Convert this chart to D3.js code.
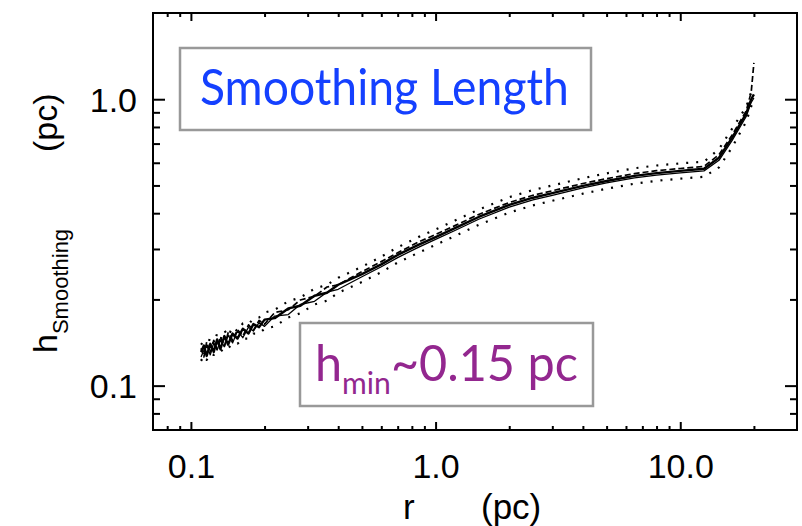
<!DOCTYPE html>
<html>
<head>
<meta charset="utf-8">
<script src="https://cdn.jsdelivr.net/npm/d3@7"></script>
<style>
  body { margin: 0; background: #fff; }
  svg { display: block; }
</style>
</head>
<body>
<script>
    // radius grid (pc) shared by all runs
    var R = [0.11, 0.113, 0.116, 0.12, 0.124, 0.128, 0.132, 0.137, 0.142, 0.148, 0.155, 0.163, 0.172, 0.18, 0.19,
             0.2, 0.22, 0.25, 0.28, 0.32, 0.36, 0.4, 0.5, 0.6, 0.7, 0.85, 1.0, 1.2, 1.5, 2.0, 2.5, 3.0, 4.0, 5.0,
             6.5, 8.0, 10.0, 12.5, 14.4, 16.3, 18.6, 19.5, 20.0];

    // smoothing length (pc), one array per line
    var hSolid  = [0.131, 0.138, 0.127, 0.140, 0.131, 0.145, 0.134, 0.149, 0.139, 0.152, 0.146, 0.158, 0.152, 0.164, 0.160,
                   0.170, 0.172, 0.186, 0.190, 0.206, 0.211, 0.225, 0.245, 0.265, 0.286, 0.310, 0.330, 0.355, 0.388, 0.428,
                   0.453, 0.470, 0.498, 0.518, 0.540, 0.552, 0.562, 0.572, 0.625, 0.734, 0.890, 1.000, 1.040];
    var hSolid2 = [0.126, 0.133, 0.139, 0.128, 0.141, 0.133, 0.144, 0.137, 0.150, 0.141, 0.155, 0.147, 0.160, 0.155, 0.166,
                   0.161, 0.175, 0.177, 0.192, 0.197, 0.212, 0.217, 0.240, 0.260, 0.280, 0.304, 0.324, 0.348, 0.381, 0.420,
                   0.445, 0.462, 0.490, 0.510, 0.531, 0.543, 0.553, 0.562, 0.612, 0.718, 0.870, 0.975, 1.010];
    var hDash   = [0.135, 0.126, 0.142, 0.130, 0.144, 0.134, 0.148, 0.137, 0.153, 0.144, 0.157, 0.149, 0.163, 0.156, 0.169,
                   0.164, 0.180, 0.184, 0.199, 0.205, 0.221, 0.225, 0.250, 0.271, 0.291, 0.317, 0.337, 0.362, 0.396, 0.436,
                   0.462, 0.479, 0.508, 0.528, 0.550, 0.563, 0.573, 0.583, 0.640, 0.750, 0.910, 1.060, 1.340];
    var hDotHi  = [0.139, 0.143, 0.135, 0.148, 0.140, 0.152, 0.145, 0.156, 0.149, 0.160, 0.155, 0.165, 0.164, 0.171, 0.173,
                   0.180, 0.184, 0.197, 0.203, 0.218, 0.225, 0.238, 0.260, 0.282, 0.304, 0.330, 0.351, 0.377, 0.412, 0.455,
                   0.482, 0.500, 0.530, 0.551, 0.574, 0.587, 0.597, 0.605, 0.670, 0.790, 0.940, 1.060, 1.110];
    var hDotLo  = [0.122, 0.127, 0.123, 0.129, 0.128, 0.131, 0.131, 0.136, 0.135, 0.140, 0.140, 0.146, 0.146, 0.152, 0.152,
                   0.158, 0.161, 0.173, 0.179, 0.192, 0.198, 0.211, 0.230, 0.249, 0.269, 0.291, 0.310, 0.333, 0.364, 0.402,
                   0.426, 0.442, 0.468, 0.487, 0.507, 0.519, 0.528, 0.536, 0.578, 0.680, 0.835, 0.945, 0.990];

    // ticks
    var xMajor = [0.1, 1, 10];
    var xMinor = [0.08, 0.09, 0.2, 0.3, 0.4, 0.5, 0.6, 0.7, 0.8, 0.9, 2, 3, 4, 5, 6, 7, 8, 9, 20];
    var yMajor = [0.1, 1];
    var yMinor = [0.08, 0.09, 0.2, 0.3, 0.4, 0.5, 0.6, 0.7, 0.8, 0.9];

    var titleText = "Smoothing Length";
    var minMain = "h", minSub = "min", minRest = "~0.15 pc";

    var width = 802, height = 526;
    // plot box edges (don't call these left/top: window.top is read-only)
    var pL = 153, pR = 797, pT = 13, pB = 430;
    var helv = "'Liberation Sans', Arial, Helvetica, sans-serif";
    var gill = "Lato, 'Open Sans', sans-serif";

    var svg = d3.select("body").append("svg")
        .attr("width", width)
        .attr("height", height);

    var x = d3.scaleLog().domain([0.07, 30]).range([pL, pR]);
    var y = d3.scaleLog().domain([0.07, 2.0]).range([pB, pT]);
    var fmt = d3.format(".1f");

    svg.append("clipPath").attr("id", "plotclip")
        .append("rect")
        .attr("x", pL).attr("y", pT)
        .attr("width", pR - pL).attr("height", pB - pT);

    // lines
    var series = [
        {h: hDotHi, w: 2.2, dash: "2,8"},
        {h: hDotLo, w: 2.2, dash: "2,8"},
        {h: hDash, w: 1.7, dash: "6,3"},
        {h: hSolid2, w: 1.3, dash: null},
        {h: hSolid, w: 2.4, dash: null}
    ];

    var line = d3.line()
        .x(function (d) { return x(d[0]); })
        .y(function (d) { return y(d[1]); });

    svg.append("g").attr("clip-path", "url(#plotclip)")
        .selectAll("path")
        .data(series)
        .enter()
        .append("path")
        .attr("d", function (s) { return line(R.map(function (r, i) { return [r, s.h[i]]; })); })
        .attr("fill", "none")
        .attr("stroke", "#000")
        .attr("stroke-width", function (s) { return s.w; })
        .attr("stroke-dasharray", function (s) { return s.dash; })
        .attr("stroke-linejoin", "round");

    // axes, ticks pointing inward on all four sides
    function styleAxis(g) {
        g.select(".domain").remove();
        g.selectAll("line").attr("stroke", "#000").attr("stroke-width", 2);
        g.selectAll("text").attr("font-family", helv).attr("font-size", 34).attr("fill", "#000");
    }

    svg.append("g").attr("transform", "translate(0," + pB + ")")
        .call(d3.axisBottom(x).tickValues(xMajor).tickSize(-8).tickSizeOuter(0).tickFormat(fmt))
        .call(styleAxis)
        .selectAll("text").attr("y", 48).attr("dy", 0);
    svg.append("g").attr("transform", "translate(0," + pB + ")")
        .call(d3.axisBottom(x).tickValues(xMinor).tickSize(-4).tickSizeOuter(0).tickFormat(""))
        .call(styleAxis);
    svg.append("g").attr("transform", "translate(0," + pT + ")")
        .call(d3.axisTop(x).tickValues(xMajor).tickSize(-8).tickSizeOuter(0).tickFormat(""))
        .call(styleAxis);
    svg.append("g").attr("transform", "translate(0," + pT + ")")
        .call(d3.axisTop(x).tickValues(xMinor).tickSize(-4).tickSizeOuter(0).tickFormat(""))
        .call(styleAxis);

    svg.append("g").attr("transform", "translate(" + pL + ",0)")
        .call(d3.axisLeft(y).tickValues(yMajor).tickSize(-12).tickSizeOuter(0).tickFormat(fmt))
        .call(styleAxis)
        .selectAll("text").attr("x", -16).attr("dy", "0.36em");
    svg.append("g").attr("transform", "translate(" + pL + ",0)")
        .call(d3.axisLeft(y).tickValues(yMinor).tickSize(-7).tickSizeOuter(0).tickFormat(""))
        .call(styleAxis);
    svg.append("g").attr("transform", "translate(" + pR + ",0)")
        .call(d3.axisRight(y).tickValues(yMajor).tickSize(-12).tickSizeOuter(0).tickFormat(""))
        .call(styleAxis);
    svg.append("g").attr("transform", "translate(" + pR + ",0)")
        .call(d3.axisRight(y).tickValues(yMinor).tickSize(-7).tickSizeOuter(0).tickFormat(""))
        .call(styleAxis);

    svg.append("rect")
        .attr("x", pL).attr("y", pT)
        .attr("width", pR - pL).attr("height", pB - pT)
        .attr("fill", "none").attr("stroke", "#000").attr("stroke-width", 2);

    // axis titles
    svg.append("text").attr("x", 403).attr("y", 519)
        .attr("font-family", helv).attr("font-size", 35).text("r");
    svg.append("text").attr("x", 481).attr("y", 519)
        .attr("font-family", helv).attr("font-size", 35).text("(pc)");

    var yl = svg.append("g").attr("transform", "translate(57,353) rotate(-90)");
    var ylt = yl.append("text").attr("font-family", helv).attr("font-size", 34);
    ylt.append("tspan").text("h");
    ylt.append("tspan").attr("font-size", 22).attr("dy", 10.5).text("Smoothing");
    yl.append("text").attr("x", 201).attr("y", 0)
        .attr("font-family", helv).attr("font-size", 34).text("(pc)");

    // annotation boxes: big humanist text, squeezed sideways to the reference width
    function squeeze(t, x0, y0, target) {
        var w = t.node().getComputedTextLength();
        t.attr("transform", "translate(" + x0 + "," + y0 + ") scale(" + (target / w) + ",1)");
    }

    svg.append("rect")
        .attr("x", 180).attr("y", 48).attr("width", 411).attr("height", 82)
        .attr("fill", "#fff").attr("stroke", "#999").attr("stroke-width", 2.5);
    var tt = svg.append("text")
        .attr("font-family", gill).attr("font-size", 50).attr("fill", "#1440ff")
        .text(titleText);
    squeeze(tt, 200, 105, 369);

    svg.append("rect")
        .attr("x", 300).attr("y", 323).attr("width", 293).attr("height", 83)
        .attr("fill", "#fff").attr("stroke", "#999").attr("stroke-width", 2.5);
    var ht = svg.append("text")
        .attr("font-family", gill).attr("font-size", 50).attr("fill", "#93278f");
    ht.append("tspan").text(minMain);
    ht.append("tspan").attr("font-size", 31).attr("dy", 13).text(minSub);
    ht.append("tspan").attr("dy", -13).text(minRest);
    squeeze(ht, 315, 381, 263);
</script>
</body>
</html>
